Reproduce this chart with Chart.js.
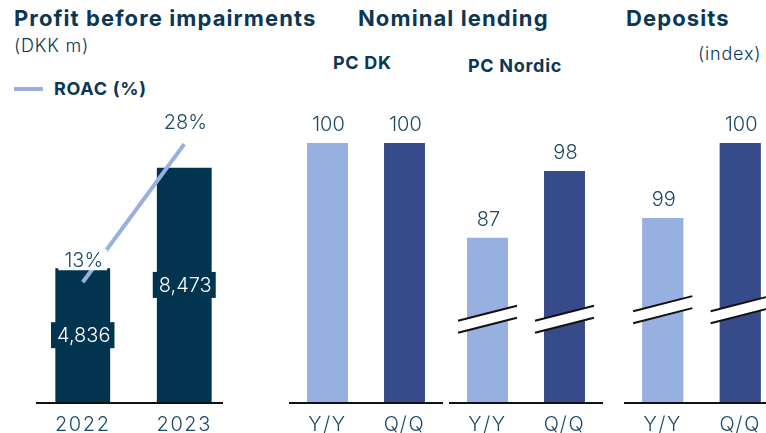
<!DOCTYPE html>
<html><head><meta charset="utf-8">
<script src="https://cdn.jsdelivr.net/npm/chart.js@4.4.1/dist/chart.umd.min.js"></script>
<style>
html,body{margin:0;padding:0;width:766px;height:433px;overflow:hidden;background:#fff;}
canvas{position:absolute;top:0;}
.t{position:absolute;white-space:nowrap;color:#0b3754;font-family:Inter,'Noto Sans',sans-serif;line-height:1;}
.h{font-weight:700;font-size:22px;letter-spacing:1.1px;}
.s{font-weight:700;font-size:18px;letter-spacing:0.7px;}
.r{font-weight:300;font-size:18px;letter-spacing:0.8px;}
.lg{position:absolute;left:14px;top:87px;width:29px;height:4px;background:#97b0e0;}
</style></head><body>
<div class="t h" style="left:14px;top:7px">Profit before impairments</div>
<div class="t r" style="left:14px;top:37px">(DKK m)</div>
<div class="lg"></div>
<div class="t s" style="left:54px;top:80px">ROAC (%)</div>
<div class="t h" style="left:358px;top:7px">Nominal lending</div>
<div class="t s" style="left:333px;top:54px">PC DK</div>
<div class="t s" style="left:468px;top:57px">PC Nordic</div>
<div class="t h" style="left:626px;top:7px">Deposits</div>
<div class="t r" style="left:698px;top:45px">(index)</div>

<canvas id="c1" width="203" height="433" style="left:32px"></canvas>
<canvas id="c2" width="154" height="433" style="left:289px"></canvas>
<canvas id="c3" width="154" height="433" style="left:449px"></canvas>
<canvas id="c4" width="155" height="433" style="left:624px"></canvas>

<script>
// ---- data ----
const years = ['2022', '2023'];
const profit = [4836, 8473];
const roac = [13, 28];
const changeLabels = ['Y/Y', 'Q/Q'];
const pcDk = [100, 100];
const pcNordic = [87, 98];
const deposits = [99, 100];

// ---- styles ----
const NAVY = '#02344f';
const LIGHT = '#97b0e0';
const DARK = '#374b8b';
const TXT = '#1c4866';
const NUMFONT = '300 20px Inter, "Noto Sans", sans-serif';
const SPACING = '1.6px';

const spacingPlugin = {
  id: 'spacing',
  beforeDraw(chart) { chart.ctx.letterSpacing = SPACING; },
  afterDraw(chart) { chart.ctx.letterSpacing = '0px'; }
};

const baselinePlugin = {
  id: 'baseline',
  afterDraw(chart, args, o) {
    const {ctx, chartArea: a} = chart;
    ctx.save();
    ctx.strokeStyle = '#111';
    ctx.lineWidth = 2;
    ctx.beginPath();
    ctx.moveTo(a.left + (o.l || 0), a.bottom + 1);
    ctx.lineTo(a.right - (o.r || 0), a.bottom + 1);
    ctx.stroke();
    ctx.restore();
  }
};

const breakPlugin = {
  id: 'axisBreak',
  afterDatasetsDraw(chart, args, o) {
    if (o.value == null) return;
    const {ctx} = chart;
    const y0 = chart.scales.y.getPixelForValue(o.value);
    const meta = chart.getDatasetMeta(0);
    const s = -0.254, g = 6;
    ctx.save();
    meta.data.forEach(bar => {
      const xc = bar.x, hw = bar.width / 2 + 9;
      const xl = xc - hw, xr = xc + hw;
      const yAt = (x, d) => y0 + d + s * (x - xc);
      ctx.fillStyle = '#fff';
      ctx.beginPath();
      ctx.moveTo(xl, yAt(xl, -g)); ctx.lineTo(xr, yAt(xr, -g));
      ctx.lineTo(xr, yAt(xr, g)); ctx.lineTo(xl, yAt(xl, g));
      ctx.closePath(); ctx.fill();
      ctx.strokeStyle = '#111'; ctx.lineWidth = 2;
      ctx.beginPath();
      ctx.moveTo(xl, yAt(xl, -g)); ctx.lineTo(xr, yAt(xr, -g));
      ctx.moveTo(xl, yAt(xl, g)); ctx.lineTo(xr, yAt(xr, g));
      ctx.stroke();
    });
    ctx.restore();
  }
};

const topLabels = {
  id: 'topLabels',
  afterDraw(chart, args, o) {
    if (!o.on) return;
    const {ctx} = chart;
    const meta = chart.getDatasetMeta(0);
    const ds = chart.data.datasets[0].data;
    ctx.save();
    ctx.font = NUMFONT;
    ctx.fillStyle = TXT;
    ctx.textAlign = 'center';
    ctx.textBaseline = 'middle';
    meta.data.forEach((bar, i) => {
      ctx.fillText(String(ds[i]), bar.x + 1, bar.y - 18);
    });
    ctx.restore();
  }
};

const profitLabels = {
  id: 'profitLabels',
  afterDraw(chart, args, o) {
    if (!o.on) return;
    const {ctx} = chart;
    ctx.save();
    ctx.font = NUMFONT;
    ctx.textAlign = 'center';
    ctx.textBaseline = 'middle';
    const bm = chart.getDatasetMeta(1);
    bm.data.forEach((bar, i) => {
      const txt = profit[i].toLocaleString('en-US');
      const w = ctx.measureText(txt).width + 10;
      const yc = (bar.y + bar.base) / 2;
      ctx.fillStyle = NAVY;
      ctx.fillRect(bar.x - w / 2, yc - 13, w, 26);
      ctx.fillStyle = '#fff';
      ctx.fillText(txt, bar.x + 1, yc + 1);
    });
    const lm = chart.getDatasetMeta(0);
    lm.data.forEach((pt, i) => {
      const txt = roac[i] + '%';
      const w = ctx.measureText(txt).width + 10;
      const yc = pt.y - 22;
      ctx.fillStyle = '#fff';
      ctx.fillRect(pt.x - w / 2, yc - 11, w, 21);
      ctx.fillStyle = TXT;
      ctx.fillText(txt, pt.x + 1, yc + 1);
    });
    ctx.restore();
  }
};

Chart.register(spacingPlugin, baselinePlugin, breakPlugin, topLabels, profitLabels);

const xScale = {
  grid: {display: false},
  border: {display: false},
  ticks: {font: {family: 'Inter, "Noto Sans", sans-serif', size: 20, weight: 300}, color: TXT, padding: 3, maxRotation: 0},
  afterFit(s) { s.height = 31; }
};

const common = {
  responsive: false,
  animation: false,
  events: [],
  layout: {padding: {top: 98, left: 0, right: 0, bottom: 0}},
};

new Chart(document.getElementById('c1'), {
  data: {
    labels: years,
    datasets: [
      {type: 'line', data: roac, yAxisID: 'y1', borderColor: LIGHT, borderWidth: 4, pointRadius: 0, borderCapStyle: 'butt', order: 0},
      {type: 'bar', data: profit, yAxisID: 'y', backgroundColor: NAVY, barPercentage: 0.54, categoryPercentage: 1, order: 1}
    ]
  },
  options: Object.assign({}, common, {
    plugins: {legend: {display: false}, tooltip: {enabled: false},
      baseline: {l: 4, r: 12}, profitLabels: {on: true}, topLabels: {on: false}, axisBreak: {value: null}},
    scales: {x: xScale, y: {display: false, min: 0, max: 11000}, y1: {display: false, min: 0, max: 33}}
  })
});

function changeChart(id, values, min, max, brk) {
  new Chart(document.getElementById(id), {
    type: 'bar',
    data: {labels: changeLabels, datasets: [{data: values, backgroundColor: [LIGHT, DARK], barPercentage: 0.532, categoryPercentage: 1}]},
    options: Object.assign({}, common, {
      plugins: {legend: {display: false}, tooltip: {enabled: false},
        baseline: {l: 0, r: 0}, topLabels: {on: true}, profitLabels: {on: false}, axisBreak: {value: brk}},
      scales: {x: xScale, y: {display: false, min: min, max: max}}
    })
  });
}
changeChart('c2', pcDk, 0, 117.4, null);
changeChart('c3', pcNordic, 60, 110, 73.6);
changeChart('c4', deposits, 96.55, 100.6, 97.78);
</script>
</body></html>
